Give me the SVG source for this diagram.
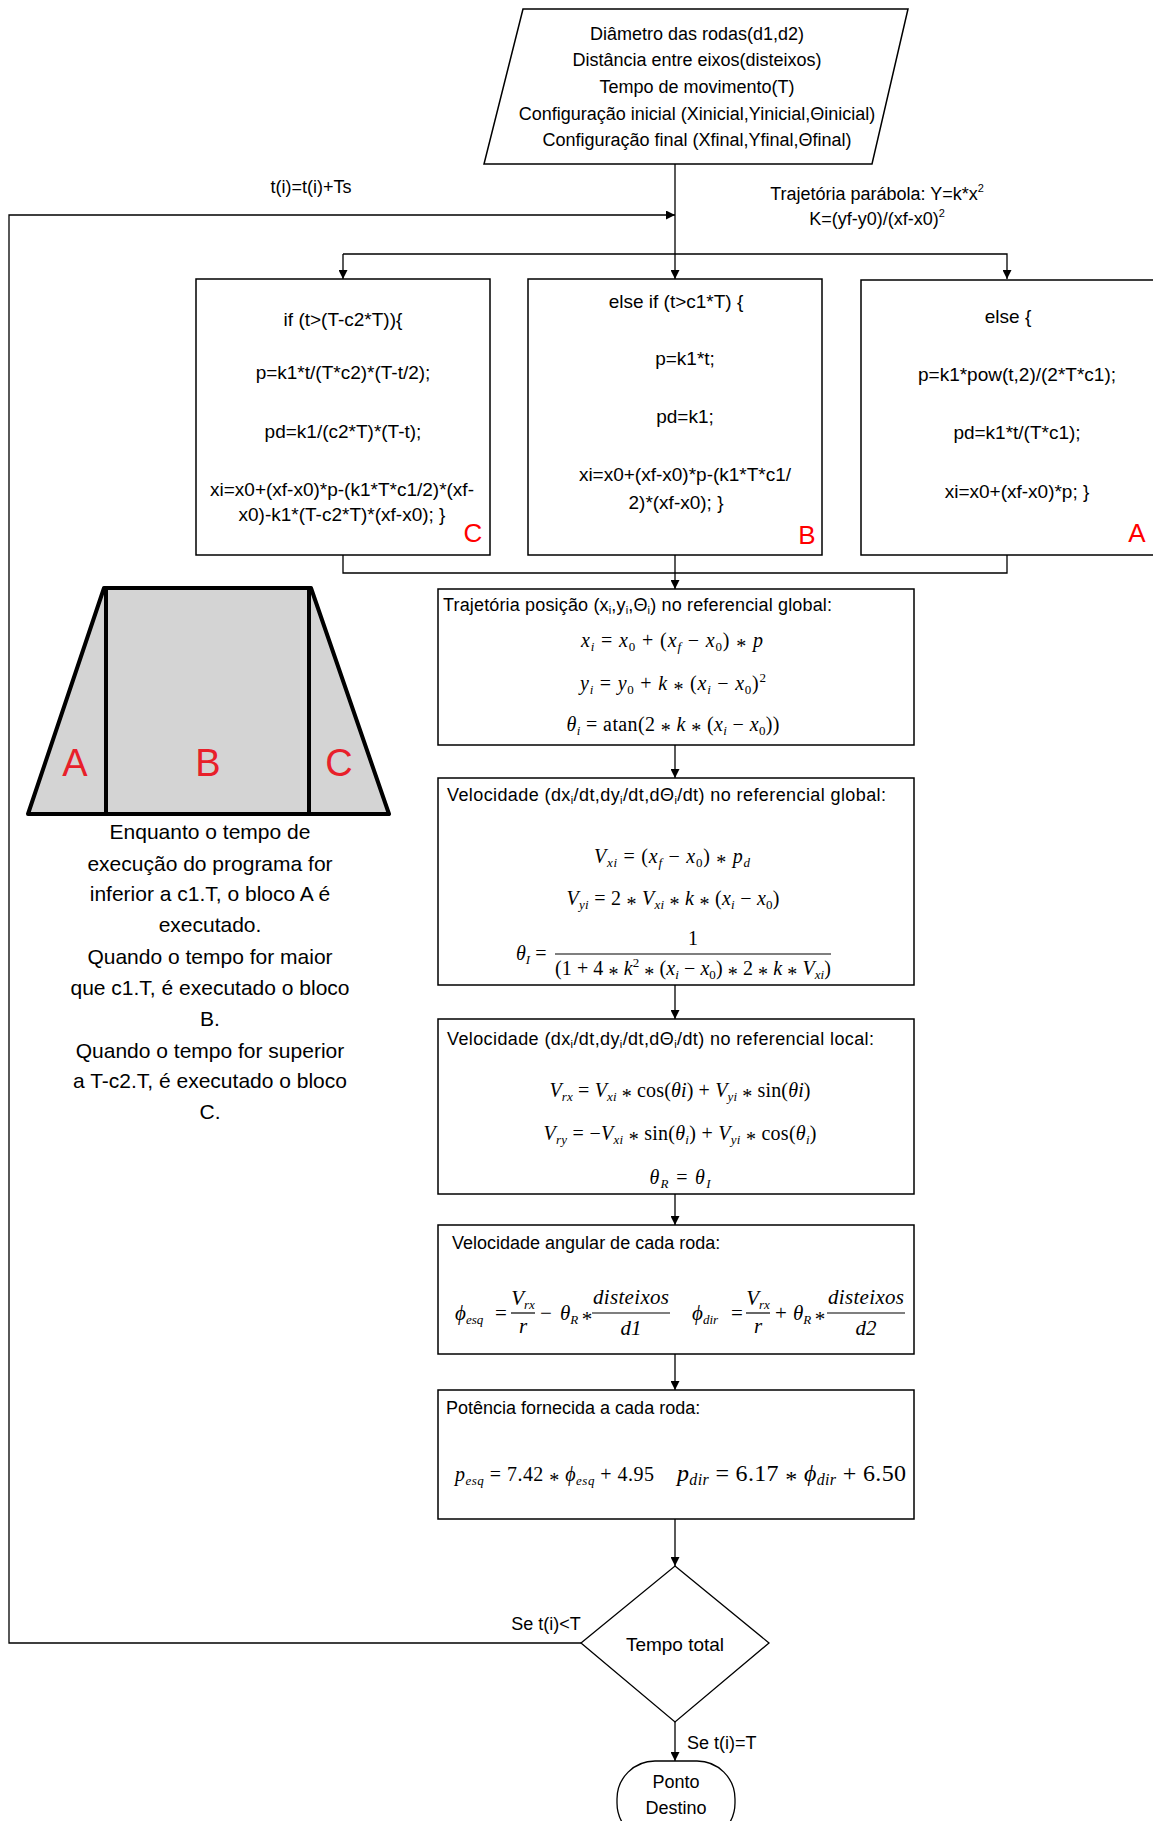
<svg xmlns="http://www.w3.org/2000/svg" width="1153" height="1821" viewBox="0 0 1153 1821">
<defs>
<style>
.t{font-family:"Liberation Sans",Arial,sans-serif;fill:#000}
.m{font-family:"Liberation Serif","Times New Roman",serif;font-style:italic;fill:#000}
.u{font-style:normal}
.a{font-style:normal;baseline-shift:-6px}
.box{fill:#fff;stroke:#000;stroke-width:1.5}
.ln{fill:none;stroke:#000;stroke-width:1.3}
.red{font-family:"Liberation Sans",Arial,sans-serif;fill:#ff0000}
</style>
<marker id="ah" viewBox="0 0 10 10" refX="10" refY="5" markerWidth="9" markerHeight="9" markerUnits="userSpaceOnUse" orient="auto"><path d="M0,0 L10,5 L0,10 z" fill="#000"/></marker>
</defs>
<rect width="1153" height="1821" fill="#fff"/>

<g id="connectors">
<line class="ln" x1="675" y1="164" x2="675" y2="254"/>
<polyline class="ln" points="343,254 1007,254 1007,279" marker-end="url(#ah)"/>
<line class="ln" x1="343" y1="254" x2="343" y2="279" marker-end="url(#ah)"/>
<line class="ln" x1="675" y1="254" x2="675" y2="279" marker-end="url(#ah)"/>
<polyline class="ln" points="343,555 343,573 1007,573 1007,555"/>
<line class="ln" x1="675" y1="555" x2="675" y2="589" marker-end="url(#ah)"/>
<line class="ln" x1="675" y1="745" x2="675" y2="778" marker-end="url(#ah)"/>
<line class="ln" x1="675" y1="985" x2="675" y2="1019" marker-end="url(#ah)"/>
<line class="ln" x1="675" y1="1194" x2="675" y2="1225" marker-end="url(#ah)"/>
<line class="ln" x1="675" y1="1354" x2="675" y2="1390" marker-end="url(#ah)"/>
<line class="ln" x1="675" y1="1519" x2="675" y2="1566" marker-end="url(#ah)"/>
<line class="ln" x1="675" y1="1722" x2="675" y2="1761" marker-end="url(#ah)"/>
<polyline class="ln" points="581,1643 9,1643 9,215 675,215" marker-end="url(#ah)"/>
<text class="t" x="311" y="193" font-size="18" text-anchor="middle">t(i)=t(i)+Ts</text>
<text class="t" x="877" y="200" font-size="18" text-anchor="middle">Trajetória parábola: Y=k*x<tspan font-size="11" dy="-8">2</tspan></text>
<text class="t" x="877" y="225" font-size="18" text-anchor="middle">K=(yf-y0)/(xf-x0)<tspan font-size="11" dy="-8">2</tspan></text>
<text class="t" x="546" y="1630" font-size="18" text-anchor="middle">Se t(i)&lt;T</text>
<text class="t" x="687" y="1749" font-size="18">Se t(i)=T</text>
</g>

<g id="input">
<polygon points="523,9 908,9 872,164 484,164" fill="#fff" stroke="#000" stroke-width="1.5"/>
<g class="t" font-size="18" text-anchor="middle">
<text x="697" y="40">Diâmetro das rodas(d1,d2)</text>
<text x="697" y="66">Distância entre eixos(disteixos)</text>
<text x="697" y="93">Tempo de movimento(T)</text>
<text x="697" y="120">Configuração inicial (Xinicial,Yinicial,Θinicial)</text>
<text x="697" y="146">Configuração final (Xfinal,Yfinal,Θfinal)</text>
</g>
</g>

<g id="blockC">
<rect class="box" x="196" y="279" width="294" height="276"/>
<g class="t" font-size="19" text-anchor="middle">
<text x="343" y="326">if (t&gt;(T-c2*T)){</text>
<text x="343" y="379">p=k1*t/(T*c2)*(T-t/2);</text>
<text x="343" y="438">pd=k1/(c2*T)*(T-t);</text>
<text x="342" y="496">xi=x0+(xf-x0)*p-(k1*T*c1/2)*(xf-</text>
<text x="342" y="521">x0)-k1*(T-c2*T)*(xf-x0); }</text>
</g>
<text class="red" x="473" y="542" font-size="26" text-anchor="middle">C</text>
</g>

<g id="blockB">
<rect class="box" x="528" y="279" width="294" height="276"/>
<g class="t" font-size="19" text-anchor="middle">
<text x="676" y="308">else if (t&gt;c1*T) {</text>
<text x="685" y="365">p=k1*t;</text>
<text x="685" y="423">pd=k1;</text>
<text x="685" y="481">xi=x0+(xf-x0)*p-(k1*T*c1/</text>
<text x="676" y="509">2)*(xf-x0); }</text>
</g>
<text class="red" x="807" y="544" font-size="26" text-anchor="middle">B</text>
</g>

<g id="blockA">
<rect class="box" x="861" y="280" width="296" height="275"/>
<g class="t" font-size="19" text-anchor="middle">
<text x="1008" y="323">else {</text>
<text x="1017" y="381">p=k1*pow(t,2)/(2*T*c1);</text>
<text x="1017" y="439">pd=k1*t/(T*c1);</text>
<text x="1017" y="498">xi=x0+(xf-x0)*p; }</text>
</g>
<text class="red" x="1137" y="542" font-size="26" text-anchor="middle">A</text>
</g>

<g id="posicao">
<rect class="box" x="438" y="589" width="476" height="156"/>
<text class="t" x="443" y="611" font-size="18" textLength="389">Trajetória posição (x<tspan font-size="11" dy="3">i</tspan><tspan dy="-3">,y</tspan><tspan font-size="11" dy="3">i</tspan><tspan dy="-3">,Θ</tspan><tspan font-size="11" dy="3">i</tspan><tspan dy="-3">) no referencial global:</tspan></text>
<g class="m" font-size="20" text-anchor="middle">
<text x="672" y="647" textLength="182">x<tspan font-size="13" dy="4">i</tspan><tspan class="u" dy="-4"> = </tspan>x<tspan class="u" font-size="13" dy="4">0</tspan><tspan class="u" dy="-4"> + (</tspan>x<tspan font-size="13" dy="4">f</tspan><tspan class="u" dy="-4"> − </tspan>x<tspan class="u" font-size="13" dy="4">0</tspan><tspan class="u" dy="-4">) </tspan><tspan class="a">*</tspan> p</text>
<text x="673" y="690" textLength="186">y<tspan font-size="13" dy="4">i</tspan><tspan class="u" dy="-4"> = </tspan>y<tspan class="u" font-size="13" dy="4">0</tspan><tspan class="u" dy="-4"> + </tspan>k <tspan class="a">*</tspan><tspan class="u"> (</tspan>x<tspan font-size="13" dy="4">i</tspan><tspan class="u" dy="-4"> − </tspan>x<tspan class="u" font-size="13" dy="4">0</tspan><tspan class="u" dy="-4">)</tspan><tspan class="u" font-size="13" dy="-8">2</tspan></text>
<text x="673" y="731" textLength="213">θ<tspan font-size="13" dy="4">i</tspan><tspan class="u" dy="-4"> = atan(2 </tspan><tspan class="a">*</tspan> k <tspan class="a">*</tspan><tspan class="u"> (</tspan>x<tspan font-size="13" dy="4">i</tspan><tspan class="u" dy="-4"> − </tspan>x<tspan class="u" font-size="13" dy="4">0</tspan><tspan class="u" dy="-4">))</tspan></text>
</g>
</g>

<g id="velGlobal">
<rect class="box" x="438" y="778" width="476" height="207"/>
<text class="t" x="447" y="801" font-size="18" textLength="439">Velocidade (dx<tspan font-size="11" dy="3">i</tspan><tspan dy="-3">/dt,dy</tspan><tspan font-size="11" dy="3">i</tspan><tspan dy="-3">/dt,dΘ</tspan><tspan font-size="11" dy="3">i</tspan><tspan dy="-3">/dt) no referencial global:</tspan></text>
<g class="m" font-size="20" text-anchor="middle">
<text x="672" y="863" textLength="156">V<tspan font-size="13" dy="4">xi</tspan><tspan class="u" dy="-4"> = (</tspan>x<tspan font-size="13" dy="4">f</tspan><tspan class="u" dy="-4"> − </tspan>x<tspan class="u" font-size="13" dy="4">0</tspan><tspan class="u" dy="-4">) </tspan><tspan class="a">*</tspan> p<tspan font-size="13" dy="4">d</tspan></text>
<text x="673" y="905" textLength="213">V<tspan font-size="13" dy="4">yi</tspan><tspan class="u" dy="-4"> = 2 </tspan><tspan class="a">*</tspan> V<tspan font-size="13" dy="4">xi</tspan><tspan class="u" dy="-4"> </tspan><tspan class="a">*</tspan> k <tspan class="a">*</tspan><tspan class="u"> (</tspan>x<tspan font-size="13" dy="4">i</tspan><tspan class="u" dy="-4"> − </tspan>x<tspan class="u" font-size="13" dy="4">0</tspan><tspan class="u" dy="-4">)</tspan></text>
<text x="693" y="945" class="u">1</text>
<text x="693" y="975" class="u" textLength="276">(1 + 4 <tspan class="a">*</tspan> <tspan class="m">k</tspan><tspan font-size="13" dy="-8">2</tspan><tspan dy="8"> </tspan><tspan class="a">*</tspan> (<tspan class="m">x</tspan><tspan class="m" font-size="13" dy="4">i</tspan><tspan dy="-4"> − </tspan><tspan class="m">x</tspan><tspan font-size="13" dy="4">0</tspan><tspan dy="-4">) </tspan><tspan class="a">*</tspan> 2 <tspan class="a">*</tspan> <tspan class="m">k</tspan> <tspan class="a">*</tspan> <tspan class="m">V</tspan><tspan class="m" font-size="13" dy="4">xi</tspan><tspan dy="-4">)</tspan></text>
</g>
<text class="m" x="516" y="960" font-size="20">θ<tspan font-size="13" dy="4">I</tspan><tspan class="u" dy="-4"> =</tspan></text>
<line x1="555" y1="954" x2="831" y2="954" stroke="#000" stroke-width="1.2"/>
</g>

<g id="velLocal">
<rect class="box" x="438" y="1019" width="476" height="175"/>
<text class="t" x="447" y="1045" font-size="18" textLength="427">Velocidade (dx<tspan font-size="11" dy="3">i</tspan><tspan dy="-3">/dt,dy</tspan><tspan font-size="11" dy="3">i</tspan><tspan dy="-3">/dt,dΘ</tspan><tspan font-size="11" dy="3">i</tspan><tspan dy="-3">/dt) no referencial local:</tspan></text>
<g class="m" font-size="20" text-anchor="middle">
<text x="680" y="1097" textLength="261">V<tspan font-size="13" dy="4">rx</tspan><tspan class="u" dy="-4"> = </tspan>V<tspan font-size="13" dy="4">xi</tspan><tspan class="u" dy="-4"> </tspan><tspan class="a">*</tspan><tspan class="u"> cos(</tspan>θi<tspan class="u">) + </tspan>V<tspan font-size="13" dy="4">yi</tspan><tspan class="u" dy="-4"> </tspan><tspan class="a">*</tspan><tspan class="u"> sin(</tspan>θi<tspan class="u">)</tspan></text>
<text x="680" y="1140" textLength="273">V<tspan font-size="13" dy="4">ry</tspan><tspan class="u" dy="-4"> = −</tspan>V<tspan font-size="13" dy="4">xi</tspan><tspan class="u" dy="-4"> </tspan><tspan class="a">*</tspan><tspan class="u"> sin(</tspan>θ<tspan font-size="13" dy="4">i</tspan><tspan class="u" dy="-4">) + </tspan>V<tspan font-size="13" dy="4">yi</tspan><tspan class="u" dy="-4"> </tspan><tspan class="a">*</tspan><tspan class="u"> cos(</tspan>θ<tspan font-size="13" dy="4">i</tspan><tspan class="u" dy="-4">)</tspan></text>
<text x="680" y="1184" textLength="61">θ<tspan font-size="13" dy="4">R</tspan><tspan class="u" dy="-4"> = </tspan>θ<tspan font-size="13" dy="4">I</tspan></text>
</g>
</g>

<g id="velAngular">
<rect class="box" x="438" y="1225" width="476" height="129"/>
<text class="t" x="452" y="1249" font-size="18">Velocidade angular de cada roda:</text>
<g class="m" font-size="21">
<text x="455" y="1320">ϕ<tspan font-size="13" dy="4">esq</tspan></text>
<text x="501" y="1320" class="u" text-anchor="middle">=</text>
<text x="523" y="1305" text-anchor="middle">V<tspan font-size="13" dy="4">rx</tspan></text>
<text x="523" y="1333" text-anchor="middle">r</text>
<text x="546" y="1320" class="u" text-anchor="middle">−</text>
<text x="560" y="1320">θ<tspan font-size="13" dy="4">R</tspan></text>
<text x="587" y="1320" class="u" text-anchor="middle"><tspan class="a">*</tspan></text>
<text x="631" y="1304" text-anchor="middle" textLength="76">disteixos</text>
<text x="631" y="1335" text-anchor="middle">d1</text>
<text x="692" y="1320">ϕ<tspan font-size="13" dy="4">dir</tspan></text>
<text x="737" y="1320" class="u" text-anchor="middle">=</text>
<text x="758" y="1305" text-anchor="middle">V<tspan font-size="13" dy="4">rx</tspan></text>
<text x="758" y="1333" text-anchor="middle">r</text>
<text x="781" y="1320" class="u" text-anchor="middle">+</text>
<text x="793" y="1320">θ<tspan font-size="13" dy="4">R</tspan></text>
<text x="820" y="1320" class="u" text-anchor="middle"><tspan class="a">*</tspan></text>
<text x="866" y="1304" text-anchor="middle" textLength="76">disteixos</text>
<text x="866" y="1335" text-anchor="middle">d2</text>
</g>
<g stroke="#000" stroke-width="1.2">
<line x1="511" y1="1313" x2="535" y2="1313"/>
<line x1="592" y1="1313" x2="670" y2="1313"/>
<line x1="746" y1="1313" x2="770" y2="1313"/>
<line x1="827" y1="1313" x2="905" y2="1313"/>
</g>
</g>

<g id="potencia">
<rect class="box" x="438" y="1390" width="476" height="129"/>
<text class="t" x="446" y="1414" font-size="18">Potência fornecida a cada roda:</text>
<text class="m" x="455" y="1481" font-size="20" textLength="199">p<tspan font-size="13" dy="4">esq</tspan><tspan class="u" dy="-4"> = 7.42 </tspan><tspan class="a">*</tspan> ϕ<tspan font-size="13" dy="4">esq</tspan><tspan class="u" dy="-4"> + 4.95</tspan></text>
<text class="m" x="677" y="1481" font-size="24" textLength="229">p<tspan font-size="16" dy="4">dir</tspan><tspan class="u" dy="-4"> = 6.17 </tspan><tspan class="a">*</tspan> ϕ<tspan font-size="16" dy="4">dir</tspan><tspan class="u" dy="-4"> + 6.50</tspan></text>
</g>

<g id="decision">
<polygon points="675,1566 769,1643 675,1722 581,1643" fill="#fff" stroke="#000" stroke-width="1.3"/>
<text class="t" x="675" y="1651" font-size="19" text-anchor="middle">Tempo total</text>
</g>

<g id="terminal">
<rect x="617" y="1761" width="118" height="80" rx="38" ry="38" fill="#fff" stroke="#000" stroke-width="1.3"/>
<text class="t" x="676" y="1788" font-size="18" text-anchor="middle">Ponto</text>
<text class="t" x="676" y="1814" font-size="18" text-anchor="middle">Destino</text>
</g>

<g id="trapezio">
<polygon points="28,814 104,588 311,588 389,814" fill="#d4d4d4" stroke="#000" stroke-width="4" stroke-linejoin="round"/>
<line x1="106" y1="588" x2="106" y2="814" stroke="#000" stroke-width="4"/>
<line x1="309" y1="588" x2="309" y2="814" stroke="#000" stroke-width="4"/>
<text x="75" y="776" font-size="38" fill="#e8202a" font-family="Liberation Sans, Arial, sans-serif" text-anchor="middle">A</text>
<text x="208" y="776" font-size="38" fill="#e8202a" font-family="Liberation Sans, Arial, sans-serif" text-anchor="middle">B</text>
<text x="339" y="776" font-size="38" fill="#e8202a" font-family="Liberation Sans, Arial, sans-serif" text-anchor="middle">C</text>
<g class="t" font-size="21" text-anchor="middle">
<text x="210" y="839">Enquanto o tempo de</text>
<text x="210" y="871">execução do programa for</text>
<text x="210" y="901">inferior a c1.T, o bloco A é</text>
<text x="210" y="932">executado.</text>
<text x="210" y="964">Quando o tempo for maior</text>
<text x="210" y="995">que c1.T, é executado o bloco</text>
<text x="210" y="1026">B.</text>
<text x="210" y="1058">Quando o tempo for superior</text>
<text x="210" y="1088">a T-c2.T, é executado o bloco</text>
<text x="210" y="1119">C.</text>
</g>
</g>
</svg>
